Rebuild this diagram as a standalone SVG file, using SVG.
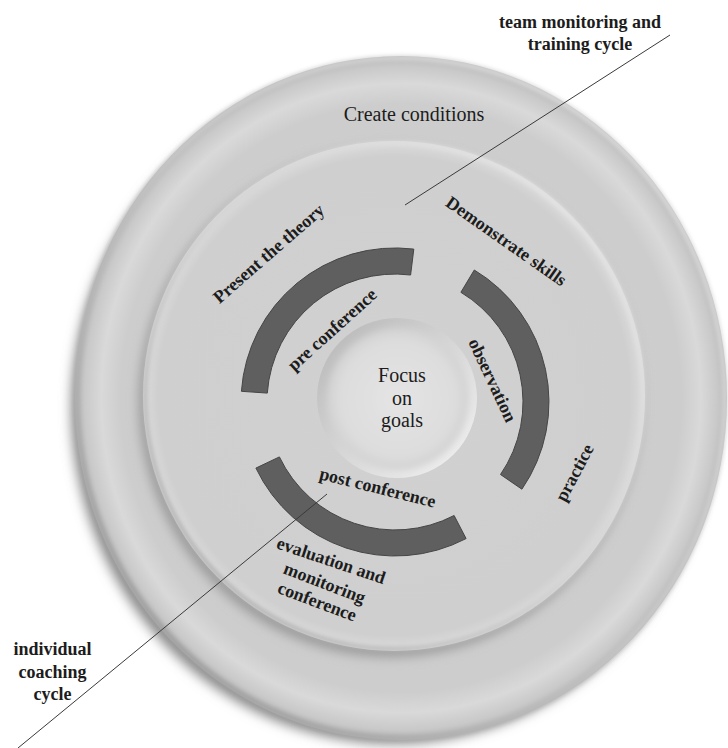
<svg xmlns="http://www.w3.org/2000/svg" width="728" height="748" viewBox="0 0 728 748">
<style>
.lbl{font-family:"Liberation Serif","Times New Roman",serif;font-weight:bold;font-size:18px;fill:#1c1c1c;text-anchor:middle}
.reg{font-family:"Liberation Serif","Times New Roman",serif;font-size:20px;fill:#1c1c1c;text-anchor:middle}
.band{fill:#5f5f5f;stroke:#454545;stroke-width:1}
.conn{stroke:#3a3a3a;stroke-width:1;fill:none}
</style>
<defs>
<filter id="blur6" x="-20%" y="-20%" width="140%" height="140%"><feGaussianBlur stdDeviation="6"/></filter>
<filter id="blur3" x="-20%" y="-20%" width="140%" height="140%"><feGaussianBlur stdDeviation="3"/></filter>
<filter id="blur2" x="-20%" y="-20%" width="140%" height="140%"><feGaussianBlur stdDeviation="2"/></filter>
<radialGradient id="outerFill" cx="0.5" cy="0.5" r="0.5">
<stop offset="0" stop-color="#cfcfcf"/>
<stop offset="0.86" stop-color="#cdcdcd"/>
<stop offset="0.92" stop-color="#d9d9d9"/>
<stop offset="0.97" stop-color="#c9c9c9"/>
<stop offset="1" stop-color="#b4b4b4"/>
</radialGradient>
<linearGradient id="rimOuter" x1="1" y1="0" x2="0" y2="1">
<stop offset="0" stop-color="#e2e2e2"/>
<stop offset="0.5" stop-color="#c8c8c8"/>
<stop offset="1" stop-color="#8e8e8e"/>
</linearGradient>
<linearGradient id="rimInner" x1="1" y1="0" x2="0" y2="1">
<stop offset="0" stop-color="#ececec"/>
<stop offset="0.5" stop-color="#d2d2d2"/>
<stop offset="1" stop-color="#a0a0a0"/>
</linearGradient>
<radialGradient id="innerFill" cx="0.5" cy="0.5" r="0.5">
<stop offset="0" stop-color="#d1d1d1"/>
<stop offset="0.94" stop-color="#cfcfcf"/>
<stop offset="1" stop-color="#dcdcdc"/>
</radialGradient>
<linearGradient id="centerRim" x1="0" y1="0" x2="1" y2="1">
<stop offset="0" stop-color="#b4b4b4"/>
<stop offset="0.5" stop-color="#d6d6d6"/>
<stop offset="1" stop-color="#f4f4f4"/>
</linearGradient>
<radialGradient id="centerFill" cx="0.5" cy="0.5" r="0.5">
<stop offset="0" stop-color="#e4e4e4"/>
<stop offset="0.8" stop-color="#dddddd"/>
<stop offset="1" stop-color="#d2d2d2"/>
</radialGradient>
</defs>
<rect width="728" height="748" fill="#ffffff"/>

<g id="outer-disk">
<ellipse cx="393" cy="408" rx="322" ry="336" fill="#8c8c8c" filter="url(#blur6)"/>
<ellipse cx="401" cy="398" rx="326" ry="342" fill="url(#outerFill)"/>
<ellipse cx="401" cy="398" rx="324" ry="340" fill="none" stroke="url(#rimOuter)" stroke-width="5" filter="url(#blur2)"/>
<text class="reg" x="414" y="121">Create conditions</text>
</g>

<g id="inner-disk">
<ellipse cx="390" cy="402" rx="251" ry="255" fill="#9a9a9a" filter="url(#blur6)"/>
<ellipse cx="394" cy="396" rx="251" ry="255" fill="url(#innerFill)"/>
<ellipse cx="394" cy="396" rx="249" ry="253" fill="none" stroke="url(#rimInner)" stroke-width="4" filter="url(#blur2)"/>
</g>

<g id="center-disk">
<circle cx="397" cy="398" r="80" fill="url(#centerRim)"/>
<circle cx="398" cy="399" r="71" fill="url(#centerFill)" filter="url(#blur3)"/>
<text class="reg" x="402" y="382">Focus</text>
<text class="reg" x="402" y="405">on</text>
<text class="reg" x="402" y="427">goals</text>
</g>

<g id="arc-pre">
<path class="band" d="M 241.4 391.3 A 154 154 0 0 1 413.8 249.1 L 410.6 275.0 A 128 128 0 0 0 267.3 393.1 Z"/>
<text class="lbl" transform="translate(336.1 334) rotate(-42)">pre conference</text>
</g>

<g id="arc-observation">
<path class="band" d="M 474.3 270.0 A 154 154 0 0 1 521.9 489.2 L 500.5 474.5 A 128 128 0 0 0 460.9 292.3 Z"/>
<text class="lbl" transform="translate(487.1 382.8) rotate(64.8)">observation</text>
</g>

<g id="arc-post">
<path class="band" d="M 466.1 538.6 A 154 154 0 0 1 255.9 468.1 L 279.4 456.9 A 128 128 0 0 0 454.1 515.5 Z"/>
<text class="lbl" transform="translate(376.2 493.3) rotate(14)">post conference</text>
</g>

<g id="label-present">
<text class="lbl" transform="translate(272.5 258) rotate(-41)">Present the theory</text>
</g>
<g id="label-demonstrate">
<text class="lbl" transform="translate(502.9 246) rotate(35)">Demonstrate skills</text>
</g>
<g id="label-practice">
<text class="lbl" transform="translate(579.8 475.5) rotate(-62)">practice</text>
</g>
<g id="label-evaluation">
<text class="lbl" transform="translate(329.3 566.1) rotate(18.6)">evaluation and</text>
<text class="lbl" transform="translate(322.5 588.5) rotate(21)">monitoring</text>
<text class="lbl" transform="translate(315.1 607.1) rotate(20.6)">conference</text>
</g>

<g id="label-team">
<text class="lbl" x="580" y="28">team monitoring and</text>
<text class="lbl" x="580" y="50">training cycle</text>
</g>
<g id="label-individual">
<text class="lbl" x="52.5" y="655">individual</text>
<text class="lbl" x="52.5" y="678">coaching</text>
<text class="lbl" x="52.5" y="700">cycle</text>
</g>

<g id="connectors">
<line class="conn" x1="670" y1="35" x2="405" y2="205"/>
<line class="conn" x1="18" y1="748" x2="327" y2="494"/>
</g>
</svg>
